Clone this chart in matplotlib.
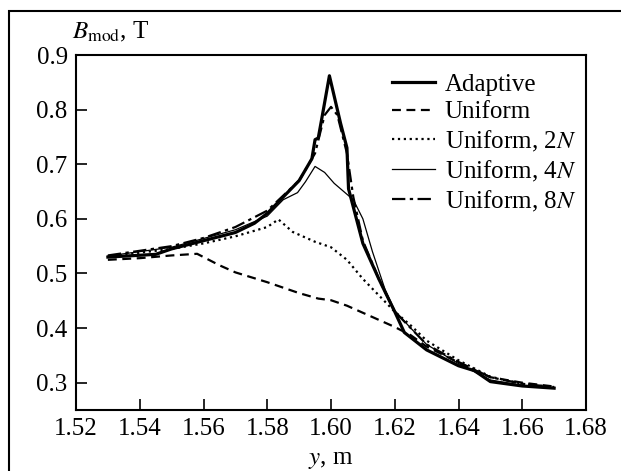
import numpy as np
import matplotlib
matplotlib.use('Agg')
import matplotlib.pyplot as plt
from matplotlib.patches import Rectangle

plt.rcParams['font.family'] = 'Liberation Serif'
plt.rcParams['mathtext.fontset'] = 'stix'
plt.rcParams['font.size'] = 18

# adaptive grid
y_ad = [1.530, 1.545, 1.550, 1.560, 1.570, 1.576, 1.580, 1.585, 1.590, 1.594, 1.595, 1.596,
        1.597, 1.5995, 1.603, 1.605, 1.6055, 1.610, 1.615, 1.620, 1.623, 1.630, 1.640, 1.645,
        1.650, 1.660, 1.670]
b_ad = [0.530, 0.535, 0.545, 0.560, 0.575, 0.592, 0.610, 0.640, 0.670, 0.710, 0.745, 0.748,
        0.780, 0.862, 0.775, 0.730, 0.655, 0.555, 0.490, 0.430, 0.392, 0.360, 0.331, 0.322,
        0.302, 0.294, 0.290]

# uniform
y_u = [1.530, 1.540, 1.550, 1.558, 1.565, 1.570, 1.580, 1.590, 1.596, 1.600, 1.605, 1.610,
       1.620, 1.625, 1.630, 1.640, 1.650, 1.660, 1.670]
b_u = [0.525, 0.528, 0.533, 0.536, 0.515, 0.502, 0.484, 0.464, 0.454, 0.451, 0.441, 0.428,
       0.402, 0.387, 0.366, 0.337, 0.310, 0.300, 0.293]

# uniform 2N
y_2n = [1.530, 1.540, 1.550, 1.560, 1.570, 1.580, 1.5835, 1.588, 1.595, 1.600, 1.605, 1.610,
        1.615, 1.620, 1.625, 1.630, 1.640, 1.650, 1.660, 1.670]
b_2n = [0.530, 0.538, 0.545, 0.555, 0.568, 0.585, 0.599, 0.576, 0.558, 0.548, 0.525, 0.490,
        0.460, 0.430, 0.405, 0.377, 0.341, 0.311, 0.298, 0.292]

# uniform 4N
y_4n = [1.530, 1.550, 1.570, 1.580, 1.585, 1.5895, 1.592, 1.595, 1.598, 1.601, 1.604, 1.607,
        1.610, 1.613, 1.617, 1.620, 1.625, 1.630, 1.640, 1.650, 1.660, 1.670]
b_4n = [0.532, 0.548, 0.580, 0.605, 0.635, 0.648, 0.668, 0.696, 0.685, 0.665, 0.650, 0.635,
        0.600, 0.540, 0.470, 0.432, 0.400, 0.370, 0.335, 0.305, 0.295, 0.290]

# uniform 8N
y_8n = [1.530, 1.550, 1.560, 1.570, 1.580, 1.590, 1.595, 1.598, 1.600, 1.602, 1.605, 1.607,
        1.610, 1.615, 1.620, 1.630, 1.640, 1.650, 1.660, 1.670]
b_8n = [0.533, 0.550, 0.565, 0.585, 0.615, 0.670, 0.720, 0.790, 0.805, 0.790, 0.720, 0.640,
        0.560, 0.490, 0.430, 0.370, 0.338, 0.310, 0.298, 0.292]

labels = ['Adaptive', 'Uniform', r'Uniform, 2$N$', r'Uniform, 4$N$', r'Uniform, 8$N$']

fig = plt.figure(figsize=(6.21, 4.71), dpi=100)
ax = fig.add_axes([76 / 621, 1 - 410 / 471, 510 / 621, 355 / 471])

ax.plot(y_ad, b_ad, 'k-', lw=2.3, label=labels[0])
ax.plot(y_u, b_u, 'k--', lw=1.6, label=labels[1], dashes=(4, 2.5))
ax.plot(y_2n, b_2n, 'k:', lw=1.6, label=labels[2])
ax.plot(y_4n, b_4n, 'k-', lw=0.9, label=labels[3])
ax.plot(y_8n, b_8n, 'k-.', lw=1.6, label=labels[4], dashes=(6, 2, 1.5, 2))

ax.set_xlim(1.52, 1.68)
ax.set_ylim(0.25, 0.9)
ax.set_xticks(np.arange(1.52, 1.681, 0.02))
ax.set_xticklabels(['%.2f' % v for v in np.arange(1.52, 1.681, 0.02)])
ax.set_yticks([0.3, 0.4, 0.5, 0.6, 0.7, 0.8, 0.9])
ax.set_yticklabels(['0.3', '0.4', '0.5', '0.6', '0.7', '0.8', '0.9'])
ax.tick_params(direction='in', length=8, width=1.2, pad=6)
for s in ax.spines.values():
    s.set_linewidth(1.5)

ax.set_xlabel(r'$y$, m', labelpad=6)
fig.text(72 / 621, 1 - 32 / 471, r'$B_{\rm mod}$, T', va='center', ha='left')

ax.legend(loc='upper left', bbox_to_anchor=(0.62, 0.948), frameon=False,
          handlelength=1.7, handletextpad=0.4, labelspacing=0.2, borderpad=0,
          borderaxespad=0)

fig.patches.append(Rectangle((9 / 621, -0.1), 2, 1.1 - 11 / 471, fill=False, lw=1.5,
                             edgecolor='k', transform=fig.transFigure, figure=fig))

fig.savefig('out.png', dpi=100)
